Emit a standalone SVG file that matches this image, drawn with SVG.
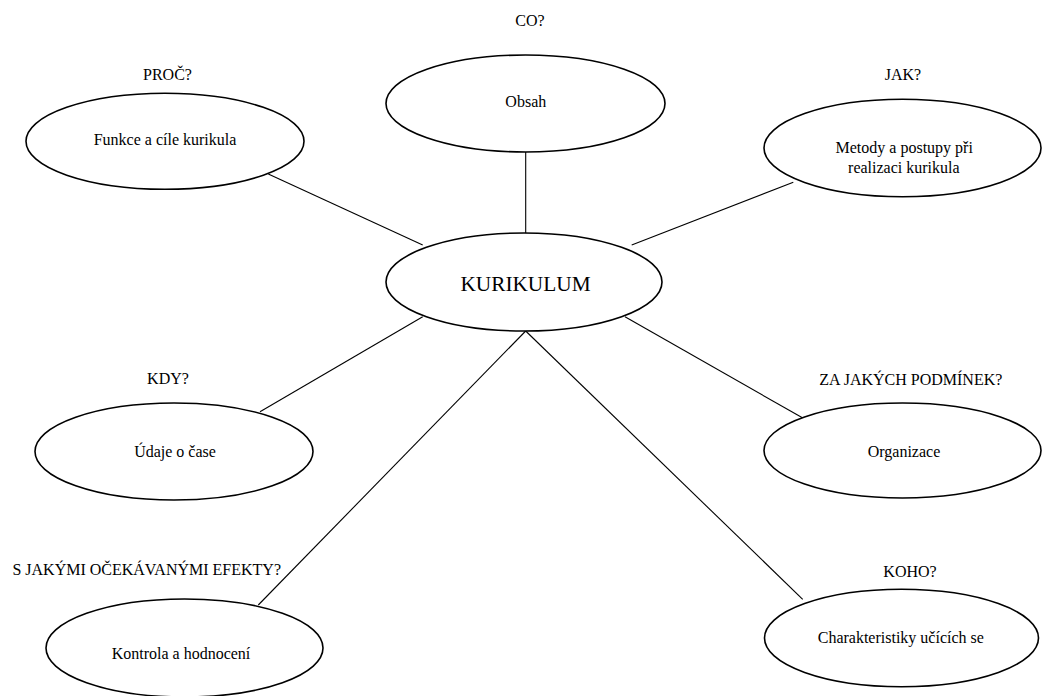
<svg xmlns="http://www.w3.org/2000/svg" width="1042" height="696" viewBox="0 0 1042 696" font-family="'Liberation Serif', 'Times New Roman', serif">
<style>
  .node ellipse { fill: #ffffff; stroke: #000000; stroke-width: 1.6; }
  text { font-family: "Liberation Serif", "Times New Roman", serif; font-size: 16px; fill: #000000; text-anchor: middle; }
  .main text { font-size: 21.3px; }
  .conn line { stroke: #000000; stroke-width: 1.1; }
</style>
<rect width="1042" height="696" fill="#ffffff"/>
<g id="connectors" class="conn">
  <line x1="525.7" y1="152" x2="525.7" y2="233"/>
  <line x1="268.3" y1="174" x2="422.7" y2="245"/>
  <line x1="793.3" y1="182.3" x2="631.7" y2="245"/>
  <line x1="260" y1="411.7" x2="422.7" y2="316.7"/>
  <line x1="803.3" y1="418.3" x2="625" y2="316.7"/>
  <line x1="525.7" y1="331" x2="258.3" y2="605"/>
  <line x1="525.7" y1="331" x2="802.7" y2="599.3"/>
</g>
<g id="node-obsah" class="node">
  <text x="530" y="26">CO?</text>
  <ellipse cx="525.5" cy="103.5" rx="139.5" ry="48.5"/>
  <text x="525.8" y="106.5">Obsah</text>
</g>
<g id="node-funkce" class="node">
  <text x="167.5" y="80.3">PROČ?</text>
  <ellipse cx="165" cy="141.3" rx="139" ry="48"/>
  <text x="165" y="145.3">Funkce a cíle kurikula</text>
</g>
<g id="node-metody" class="node">
  <text x="903" y="80">JAK?</text>
  <ellipse cx="902.5" cy="148" rx="138.5" ry="48.7"/>
  <text x="904.2" y="152.7">Metody a postupy při</text>
  <text x="903.8" y="172.7">realizaci kurikula</text>
</g>
<g id="node-kurikulum" class="node main">
  <ellipse cx="524" cy="282" rx="138" ry="49"/>
  <text x="525.5" y="291">KURIKULUM</text>
</g>
<g id="node-udaje" class="node">
  <text x="168" y="384">KDY?</text>
  <ellipse cx="174" cy="451.5" rx="139" ry="48.5"/>
  <text x="175" y="457.3">Údaje o čase</text>
</g>
<g id="node-organizace" class="node">
  <text x="910.8" y="385">ZA JAKÝCH PODMÍNEK?</text>
  <ellipse cx="902.5" cy="450.5" rx="138.5" ry="47.5"/>
  <text x="904" y="457.3">Organizace</text>
</g>
<g id="node-kontrola" class="node">
  <text x="146.7" y="575">S JAKÝMI OČEKÁVANÝMI EFEKTY?</text>
  <ellipse cx="184.5" cy="648" rx="138.5" ry="49"/>
  <text x="181" y="659.3">Kontrola a hodnocení</text>
</g>
<g id="node-charakteristiky" class="node">
  <text x="910" y="577.3">KOHO?</text>
  <ellipse cx="901.5" cy="638" rx="137" ry="48.7"/>
  <text x="900.8" y="643.3">Charakteristiky učících se</text>
</g>
</svg>
